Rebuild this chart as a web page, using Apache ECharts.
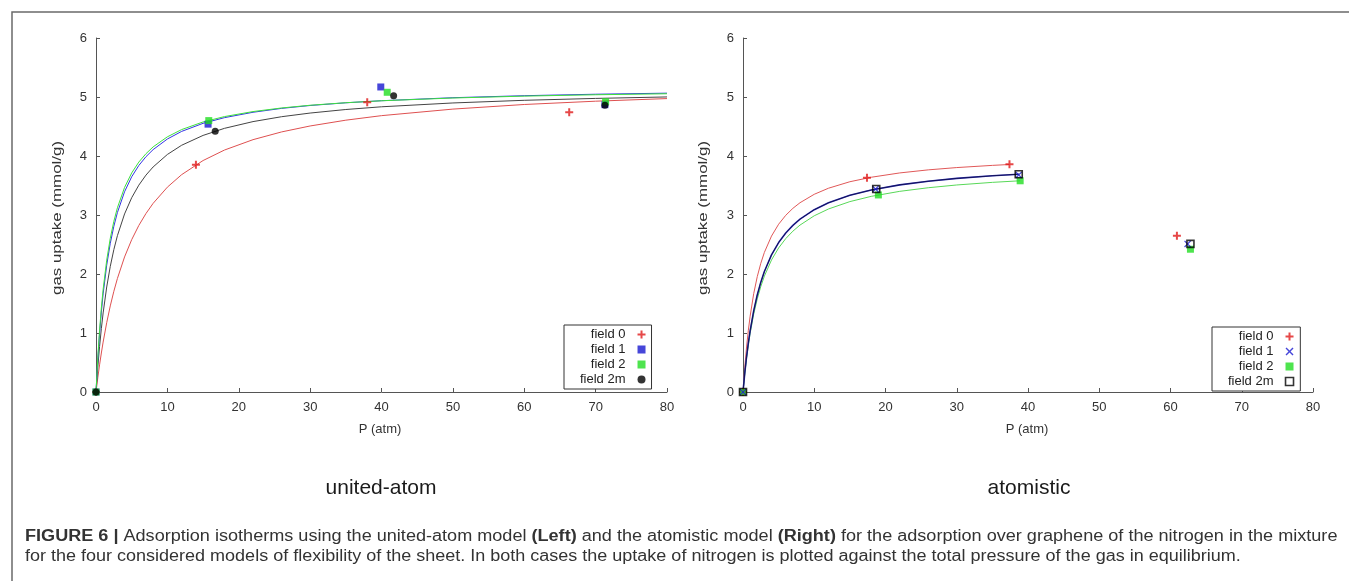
<!DOCTYPE html>
<html lang="en">
<head>
    <meta charset="utf-8">
    <title>Adsorption isotherms</title>
    <script src="https://cdn.jsdelivr.net/npm/echarts@6.0.0/dist/echarts.min.js"></script>
    <style>
        html, body { margin: 0; padding: 0; background: #fff; }
        #chart { width: 1349px; height: 581px; }
    </style>
</head>
<body>
<div id="chart"></div>
<script>
    // ---- data ----
    var fieldNames = ['field 0', 'field 1', 'field 2', 'field 2m'];

    // united-atom (left) fitted curves
    var leftCurveP = [0, 0.25, 0.5, 0.75, 1, 1.5, 2, 2.5, 3, 4, 5, 6, 7, 8, 10, 12, 15, 18, 22, 26, 30, 35, 40, 50, 60, 70, 80];
    var leftCurve0 = [0, 0.240, 0.460, 0.661, 0.846, 1.175, 1.459, 1.707, 1.924, 2.289, 2.582, 2.823, 3.025, 3.197, 3.472, 3.684, 3.923, 4.101, 4.277, 4.408, 4.509, 4.607, 4.684, 4.795, 4.873, 4.929, 4.973];
    var leftCurve1 = [0, 0.547, 0.990, 1.355, 1.663, 2.150, 2.520, 2.809, 3.042, 3.394, 3.648, 3.839, 3.988, 4.108, 4.288, 4.417, 4.554, 4.650, 4.741, 4.807, 4.856, 4.902, 4.937, 4.988, 5.022, 5.047, 5.065];
    var leftCurve2 = [0, 0.582, 1.046, 1.425, 1.740, 2.235, 2.605, 2.893, 3.123, 3.467, 3.713, 3.897, 4.039, 4.154, 4.325, 4.448, 4.577, 4.668, 4.753, 4.814, 4.860, 4.903, 4.936, 4.983, 5.015, 5.038, 5.055];
    var leftCurve2m = [0, 0.416, 0.770, 1.075, 1.340, 1.780, 2.129, 2.414, 2.650, 3.018, 3.293, 3.506, 3.676, 3.814, 4.026, 4.182, 4.349, 4.469, 4.583, 4.666, 4.728, 4.788, 4.834, 4.899, 4.944, 4.976, 5.001];

    // united-atom (left) simulated points
    var leftP0 = [0, 14.0, 38.0, 66.3];
    var leftQ0 = [0, 3.85, 4.91, 4.74];
    var leftP1 = [0, 15.7, 39.9, 71.3];
    var leftQ1 = [0, 4.54, 5.17, 4.87];
    var leftP2 = [0, 15.8, 40.8, 71.4];
    var leftQ2 = [0, 4.60, 5.08, 4.92];
    var leftP2m = [0, 16.7, 41.7, 71.3];
    var leftQ2m = [0, 4.42, 5.02, 4.86];

    // atomistic (right) fitted curves
    var rightCurveP0 = [0, 0.25, 0.5, 0.75, 1, 1.5, 2, 2.5, 3, 4, 5, 6, 7, 8, 10, 12, 15, 18, 22, 26, 30, 35, 37.4];
    var rightCurve0 = [0, 0.421, 0.763, 1.047, 1.285, 1.666, 1.955, 2.182, 2.366, 2.643, 2.844, 2.995, 3.113, 3.208, 3.351, 3.454, 3.564, 3.640, 3.713, 3.765, 3.804, 3.841, 3.856];
    var rightCurveP1 = [0, 0.25, 0.5, 0.75, 1, 1.5, 2, 2.5, 3, 4, 5, 6, 7, 8, 10, 12, 15, 18, 22, 26, 30, 35, 38.7];
    var rightCurve1 = [0, 0.323, 0.597, 0.833, 1.037, 1.376, 1.644, 1.862, 2.042, 2.324, 2.533, 2.695, 2.824, 2.929, 3.090, 3.207, 3.334, 3.424, 3.511, 3.573, 3.620, 3.665, 3.691];
    var rightCurveP2 = [0, 0.25, 0.5, 0.75, 1, 1.5, 2, 2.5, 3, 4, 5, 6, 7, 8, 10, 12, 15, 18, 22, 26, 30, 35, 38.9];
    var rightCurve2 = [0, 0.308, 0.570, 0.796, 0.993, 1.319, 1.578, 1.789, 1.964, 2.238, 2.442, 2.600, 2.726, 2.829, 2.987, 3.102, 3.227, 3.316, 3.401, 3.462, 3.509, 3.553, 3.580];

    // atomistic (right) simulated points
    var rightP0 = [0, 17.4, 37.4, 60.9];
    var rightQ0 = [0, 3.63, 3.86, 2.65];
    var rightP1 = [0, 18.6, 38.7, 62.4];
    var rightQ1 = [0, 3.44, 3.68, 2.51];
    var rightP2 = [0, 19.0, 38.9, 62.8];
    var rightQ2 = [0, 3.34, 3.58, 2.42];
    var rightP2m = [0, 18.7, 38.7, 62.8];
    var rightQ2m = [0, 3.44, 3.69, 2.51];

    var xTicks = {min: 0, max: 80, interval: 10};
    var yTicks = {min: 0, max: 6, interval: 1};

    // ---- styling ----
    var FONT = "'Liberation Sans', Arial, sans-serif";
    var PLUS = 'path://M3,0H5V3H8V5H5V8H3V5H0V3H3Z';
    var CROSS = 'path://M0,1L1,0L4,3L7,0L8,1L5,4L8,7L7,8L4,5L1,8L0,7L3,4Z';
    var SQUARE = 'path://M0,0H8V8H0Z';
    var CIRCLE = 'path://M4,0A4,4,0,1,1,4,8A4,4,0,1,1,4,0Z';

    function zip(xs, ys) {
        return xs.map(function (x, i) { return [x, ys[i]]; });
    }

    function curve(name, idx, xs, ys, color, width, opacity) {
        return {
            name: name, type: 'line', xAxisIndex: idx, yAxisIndex: idx,
            data: zip(xs, ys), smooth: false,
            showSymbol: false, silent: true, z: 2,
            lineStyle: {color: color, width: width, opacity: opacity == null ? 1 : opacity}
        };
    }

    function points(name, idx, xs, ys, symbol, size, style) {
        return {
            name: name, type: 'scatter', xAxisIndex: idx, yAxisIndex: idx,
            data: zip(xs, ys), symbol: symbol, symbolSize: size, z: 5,
            itemStyle: style
        };
    }

    function xAxis(idx) {
        return {
            type: 'value', gridIndex: idx, min: xTicks.min, max: xTicks.max, interval: xTicks.interval,
            axisLine: {lineStyle: {color: '#555', width: 1}},
            axisTick: {inside: true, length: 4, lineStyle: {color: '#555'}},
            axisLabel: {color: '#333', fontSize: 13, fontFamily: FONT, margin: 9},
            splitLine: {show: false}
        };
    }

    function yAxis(idx) {
        return {
            type: 'value', gridIndex: idx, min: yTicks.min, max: yTicks.max, interval: yTicks.interval,
            axisLine: {show: true, lineStyle: {color: '#555', width: 1}},
            axisTick: {show: true, inside: true, length: 4, lineStyle: {color: '#555'}},
            axisLabel: {color: '#333', fontSize: 13, fontFamily: FONT, margin: 9},
            splitLine: {show: false}
        };
    }

    // right-hand series get a trailing space so each legend reads its own series
    var rn = fieldNames.map(function (n) { return n + ' '; });

    var red = '#e01a1a', blue = '#1818d0', green = '#22dd22', black = '#000';

    function legend(names, icons, styles, left, top) {
        return {
            orient: 'vertical', align: 'right', left: left, top: top,
            itemWidth: 22, itemHeight: 8, itemGap: 2,
            padding: [3, 6, 3, 16],
            borderColor: '#333', borderWidth: 1, backgroundColor: '#fff',
            selectedMode: false,
            textStyle: {color: '#222', fontSize: 13, fontFamily: FONT},
            formatter: function (n) { return n.trim(); },
            data: names.map(function (n, i) {
                return {name: n, icon: icons[i], itemStyle: styles[i]};
            })
        };
    }

    var chart = echarts.init(document.getElementById('chart'), null, {renderer: 'canvas'});
    var option = {
        animation: false,
        backgroundColor: '#fff',
        grid: [
            {left: 96, top: 38, width: 571, height: 354},
            {left: 743, top: 38, width: 570, height: 354}
        ],
        xAxis: [xAxis(0), xAxis(1)],
        yAxis: [yAxis(0), yAxis(1)],
        legend: [
            legend(fieldNames, [PLUS, SQUARE, SQUARE, CIRCLE],
                [{color: red}, {color: blue}, {color: green}, {color: black}], 564, 325),
            legend(rn, [PLUS, CROSS, SQUARE, SQUARE],
                [{color: red}, {color: blue}, {color: green},
                    {color: '#fff', borderColor: black, borderWidth: 1.6}], 1212, 327)
        ],
        series: [
            curve('fit 0', 0, leftCurveP, leftCurve0, '#de5050', 1),
            curve('fit 2m', 0, leftCurveP, leftCurve2m, '#444', 1),
            curve('fit 1', 0, leftCurveP, leftCurve1, '#3434e4', 1),
            curve('fit 2', 0, leftCurveP, leftCurve2, '#3ee03e', 1),
            points(fieldNames[0], 0, leftP0, leftQ0, PLUS, 8, {color: red}),
            points(fieldNames[1], 0, leftP1, leftQ1, SQUARE, 7, {color: blue}),
            points(fieldNames[2], 0, leftP2, leftQ2, SQUARE, 7, {color: green}),
            points(fieldNames[3], 0, leftP2m, leftQ2m, CIRCLE, 7, {color: black}),

            curve('fit 0 r', 1, rightCurveP0, rightCurve0, '#e05858', 1),
            curve('fit 2 r', 1, rightCurveP2, rightCurve2, '#58d858', 1),
            curve('fit 1 r', 1, rightCurveP1, rightCurve1, '#2a2ab8', 1.6),
            curve('fit 2m r', 1, rightCurveP1, rightCurve1, '#000', 1, 0.55),
            points(rn[0], 1, rightP0, rightQ0, PLUS, 8, {color: red}),
            points(rn[2], 1, rightP2, rightQ2, SQUARE, 7, {color: green}),
            points(rn[1], 1, rightP1, rightQ1, CROSS, 7, {color: blue}),
            points(rn[3], 1, rightP2m, rightQ2m, SQUARE, 7,
                {color: 'rgba(255,255,255,0)', borderColor: black, borderWidth: 1.6})
        ],
        graphic: [
            // outer figure frame
            {type: 'rect', shape: {x: 12, y: 12, width: 1400, height: 700},
                style: {fill: null, stroke: '#6a6a6a', lineWidth: 1.5}, silent: true},
            // axis titles
            {type: 'text', x: 57, y: 218, rotation: Math.PI / 2, scaleX: 1.3,
                style: {text: 'gas uptake (mmol/g)', font: '13px ' + FONT, fill: '#333',
                    align: 'center', verticalAlign: 'middle'}},
            {type: 'text', x: 703, y: 218, rotation: Math.PI / 2, scaleX: 1.3,
                style: {text: 'gas uptake (mmol/g)', font: '13px ' + FONT, fill: '#333',
                    align: 'center', verticalAlign: 'middle'}},
            {type: 'text', x: 380, y: 429,
                style: {text: 'P (atm)', font: '13px ' + FONT, fill: '#333',
                    align: 'center', verticalAlign: 'middle'}},
            {type: 'text', x: 1027, y: 429,
                style: {text: 'P (atm)', font: '13px ' + FONT, fill: '#333',
                    align: 'center', verticalAlign: 'middle'}},
            // panel titles
            {type: 'text', x: 381, y: 488,
                style: {text: 'united-atom', font: '21px ' + FONT, fill: '#1a1a1a',
                    align: 'center', verticalAlign: 'middle'}},
            {type: 'text', x: 1029, y: 488,
                style: {text: 'atomistic', font: '21px ' + FONT, fill: '#1a1a1a',
                    align: 'center', verticalAlign: 'middle'}},
            // caption
            {type: 'text', x: 25, y: 537, scaleX: 1.13,
                style: {
                    text: '{b|FIGURE 6 |} Adsorption isotherms using the united-atom model {b|(Left)} and the atomistic model {b|(Right)} for the adsorption over graphene of the nitrogen in the mixture',
                    font: '16px ' + FONT, fill: '#333', verticalAlign: 'middle',
                    rich: {b: {fontWeight: 'bold', fontSize: 16, fontFamily: FONT, fill: '#333'}}
                }},
            {type: 'text', x: 25, y: 557, scaleX: 1.125,
                style: {
                    text: 'for the four considered models of flexibility of the sheet. In both cases the uptake of nitrogen is plotted against the total pressure of the gas in equilibrium.',
                    font: '16px ' + FONT, fill: '#333', verticalAlign: 'middle'
                }}
        ]
    };
    chart.setOption(option);
</script>
</body>
</html>
